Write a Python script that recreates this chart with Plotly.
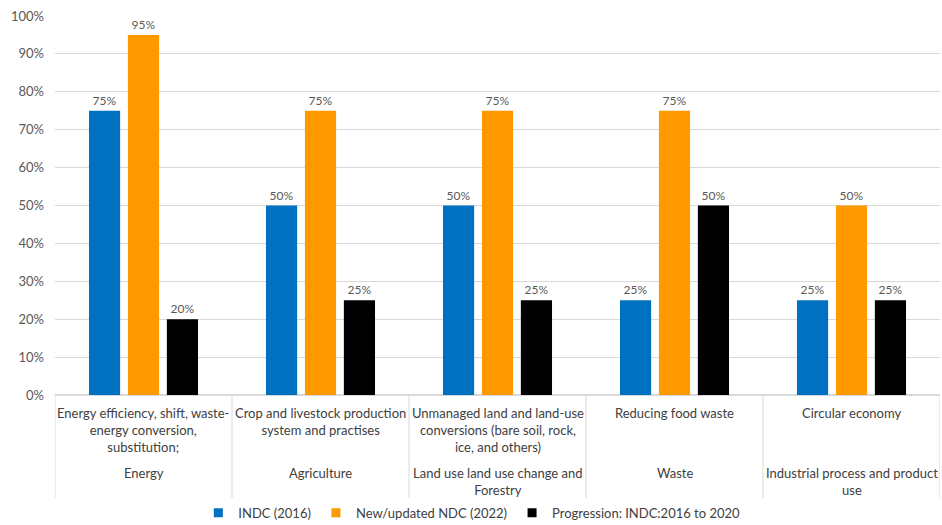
import plotly.graph_objects as go

categories = ["Energy", "Agriculture", "LULUCF", "Waste", "IPPU"]
sub_labels = [
    "Energy efficiency, shift, waste-<br>energy conversion,<br>substitution;",
    "Crop and livestock production<br>system and practises",
    "Unmanaged land and land-use<br>conversions (bare soil, rock,<br>ice, and others)",
    "Reducing food waste",
    "Circular economy",
]
sector_labels = [
    "Energy",
    "Agriculture",
    "Land use land use change and<br>Forestry",
    "Waste",
    "Industrial process and product<br>use",
]
series_names = ["INDC (2016)", "New/updated NDC (2022)", "Progression: INDC:2016 to 2020"]
indc_2016 = [0.75, 0.50, 0.50, 0.25, 0.25]
ndc_2022 = [0.95, 0.75, 0.75, 0.75, 0.50]
progression = [0.20, 0.25, 0.25, 0.50, 0.25]
colors = ["#0070C0", "#FF9900", "#000000"]
y_ticks = [i / 10 for i in range(11)]

FONT = "Lato"
GREY = "#595959"

fig = go.Figure()
for name, vals, col in zip(series_names, [indc_2016, ndc_2022, progression], colors):
    fig.add_trace(go.Bar(
        x=categories, y=vals, name=name, marker_color=col, marker_line_width=0,
        text=[f"{v:.0%}" for v in vals], textposition="outside",
        textfont=dict(family=FONT, size=12, color=GREY), cliponaxis=False,
        hoverinfo="skip", showlegend=False, legendgroup=name,
    ))
# legend entries with small square markers
for name, col in zip(series_names, colors):
    fig.add_trace(go.Scatter(
        x=[None], y=[None], mode="markers", name=name, legendgroup=name,
        marker=dict(symbol="square", size=9, color=col), hoverinfo="skip",
    ))

annotations = []
for c, s in zip(categories, sub_labels):
    annotations.append(dict(x=c, xref="x", y=-0.022, yref="paper", yanchor="top",
                            text=s, showarrow=False, align="center",
                            font=dict(family=FONT, size=13, color="#404040")))
for c, s in zip(categories, sector_labels):
    annotations.append(dict(x=c, xref="x", y=-0.18, yref="paper", yanchor="top",
                            text=s, showarrow=False, align="center",
                            font=dict(family=FONT, size=13, color="#404040")))

shapes = []
for i in range(len(categories) + 1):
    shapes.append(dict(type="line", xref="x", yref="paper", x0=i - 0.5, x1=i - 0.5,
                       y0=0, y1=-0.272, line=dict(color="#D9D9D9", width=1)))

fig.update_layout(
    width=942, height=525,
    margin=dict(l=55, r=2, t=16, b=130, autoexpand=False),
    paper_bgcolor="white", plot_bgcolor="white",
    barmode="group", bargap=0.34, bargroupgap=0.2,
    font=dict(family=FONT, color=GREY),
    xaxis=dict(showticklabels=False, showgrid=False, showline=False, ticks="",
               range=[-0.5, 4.5], zeroline=False),
    yaxis=dict(range=[0, 1], tickvals=y_ticks, tickformat=".0%",
               tickfont=dict(family=FONT, size=13, color=GREY),
               showgrid=True, gridcolor="#D9D9D9", gridwidth=1,
               zeroline=True, zerolinecolor="#D9D9D9", showline=False, ticks="",
               ticklabelstandoff=10),
    legend=dict(orientation="h", x=0.471, xanchor="center", y=-0.311, yanchor="middle",
                font=dict(family=FONT, size=13, color="#404040"),
                itemwidth=30, traceorder="normal"),
    annotations=annotations, shapes=shapes,
)

fig.write_html("out.html")
